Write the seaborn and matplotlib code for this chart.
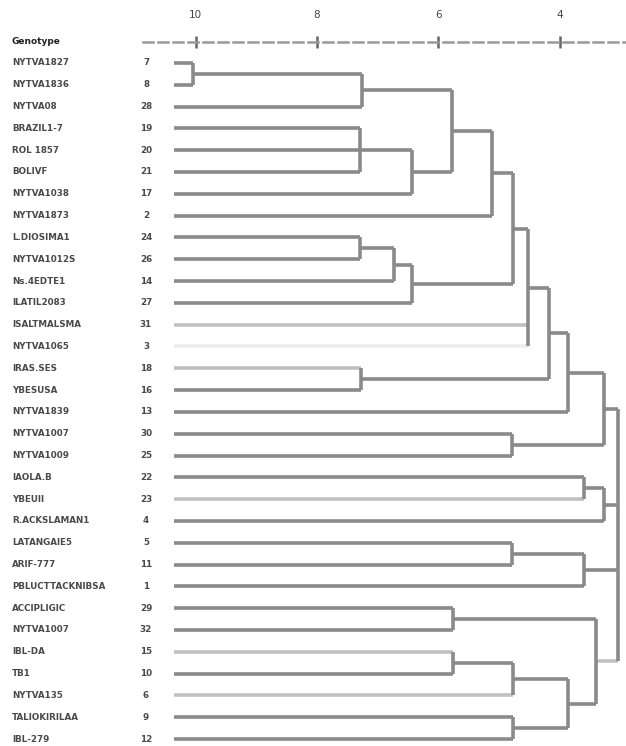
import matplotlib
matplotlib.use("Agg")
import matplotlib.pyplot as plt
import matplotlib.transforms as mtransforms
import seaborn as sns

# Leaf labels, top to bottom
genotypes = ["NYTVA1827", "NYTVA1836", "NYTVA08", "BRAZIL1-7", "ROL 1857",
             "BOLIVF", "NYTVA1038", "NYTVA1873", "L.DIOSIMA1", "NYTVA1012S",
             "Ns.4EDTE1", "ILATIL2083", "ISALTMALSMA", "NYTVA1065", "IRAS.SES",
             "YBESUSA", "NYTVA1839", "NYTVA1007", "NYTVA1009", "IAOLA.B",
             "YBEUII", "R.ACKSLAMAN1", "LATANGAIE5", "ARIF-777",
             "PBLUCTTACKNIBSA", "ACCIPLIGIC", "NYTVA1007", "IBL-DA", "TB1",
             "NYTVA135", "TALIOKIRILAA", "IBL-279"]
codes = ["7", "8", "28", "19", "20", "21", "17", "2", "24", "26", "14", "27",
         "31", "3", "18", "16", "13", "30", "25", "22", "23", "4", "5", "11",
         "1", "29", "32", "15", "10", "6", "9", "12"]

# Cluster merges: name, members (leaf index or earlier merge), height
merge_names = ["A", "B", "C", "E", "F", "G", "H", "I", "J", "K", "L", "O",
               "P", "Q", "R", "S", "T", "U", "V", "W", "Y", "Z", "AA", "AC",
               "AB", "X", "root"]
merge_children = [[0, 1], ["A", 2], [3, 4, 5], ["C", 6], ["B", "E"], ["F", 7],
                  [8, 9], ["H", 10], ["I", 11], ["G", "J"], ["K", 12, 13],
                  [14, 15], ["L", "O"], ["P", 16], [17, 18], ["Q", "R"],
                  [19, 20], ["T", 21], [22, 23], ["V", 24], [25, 26],
                  [27, 28], ["Z", 29], [30, 31], ["AA", "AC"], ["Y", "AB"],
                  ["S", "U", "W", "X"]]
merge_heights = [10.04, 7.26, 7.29, 6.43, 5.77, 5.12, 7.29, 6.73, 6.43, 4.77,
                 4.52, 7.27, 4.18, 3.86, 4.78, 3.28, 3.60, 3.28, 4.78, 3.61,
                 5.76, 5.76, 4.77, 4.77, 3.86, 3.41, 3.04]
leaf_start = 10.36
ticks = [10, 8, 6, 4]

light_nodes = [12, 14, 20, 27, 29, "X"]
faint_nodes = [13]

sns.set_style("white")
plt.rcParams['font.family'] = ['DejaVu Sans']

fig = plt.figure(figsize=(6.26, 7.46), dpi=100)
ax = fig.add_axes([0.228, 0.0, 0.772, 0.9437])

dark, light, faint = "#8a8a8a", "#c0c0c0", "#ececec"

ypos = {i: i for i in range(len(genotypes))}
xpos = {i: leaf_start for i in range(len(genotypes))}

def shade(node):
    if node in faint_nodes:
        return faint
    if node in light_nodes:
        return light
    return dark

for name, kids, h in zip(merge_names, merge_children, merge_heights):
    ys = [ypos[k] for k in kids]
    for k in kids:
        ax.plot([xpos[k], h], [ypos[k], ypos[k]], color=shade(k), lw=2.6,
                solid_capstyle="butt", zorder=1 if shade(k) != dark else 2)
    ax.plot([h, h], [min(ys), max(ys)], color=dark, lw=2.6,
            solid_capstyle="butt", zorder=2)
    ypos[name] = (min(ys) + max(ys)) / 2
    xpos[name] = h

ax.set_xlim(10.87, 2.91)
ax.set_ylim(31.32, -0.96)
ax.set_yticks([])
ax.xaxis.tick_top()
ax.set_xticks(ticks)
ax.set_xticklabels([str(t) for t in ticks])
ax.tick_params(axis="x", direction="inout", length=9, width=1.8,
               color="#666666", pad=11, labelsize=7.5, labelcolor="#444444")
for s in ["left", "right", "bottom"]:
    ax.spines[s].set_visible(False)
ax.spines["top"].set_linestyle((0, (4, 2)))
ax.spines["top"].set_color("#999999")
ax.spines["top"].set_linewidth(1.8)

# Left-hand label columns
trans = mtransforms.blended_transform_factory(fig.transFigure, ax.transData)
fig.text(12 / 626, 1 - 42 / 746, "Genotype", ha="left", va="center",
         fontsize=6.5, fontweight="bold", color="#222222")
for i, (g, c) in enumerate(zip(genotypes, codes)):
    ax.text(12 / 626, i, g, transform=trans, ha="left", va="center",
            fontsize=6.3, fontweight="bold", color="#4a4a4a", clip_on=False)
    ax.text(146 / 626, i, c, transform=trans, ha="center", va="center",
            fontsize=6.3, fontweight="bold", color="#4a4a4a", clip_on=False)

plt.savefig("out.png", dpi=100)
